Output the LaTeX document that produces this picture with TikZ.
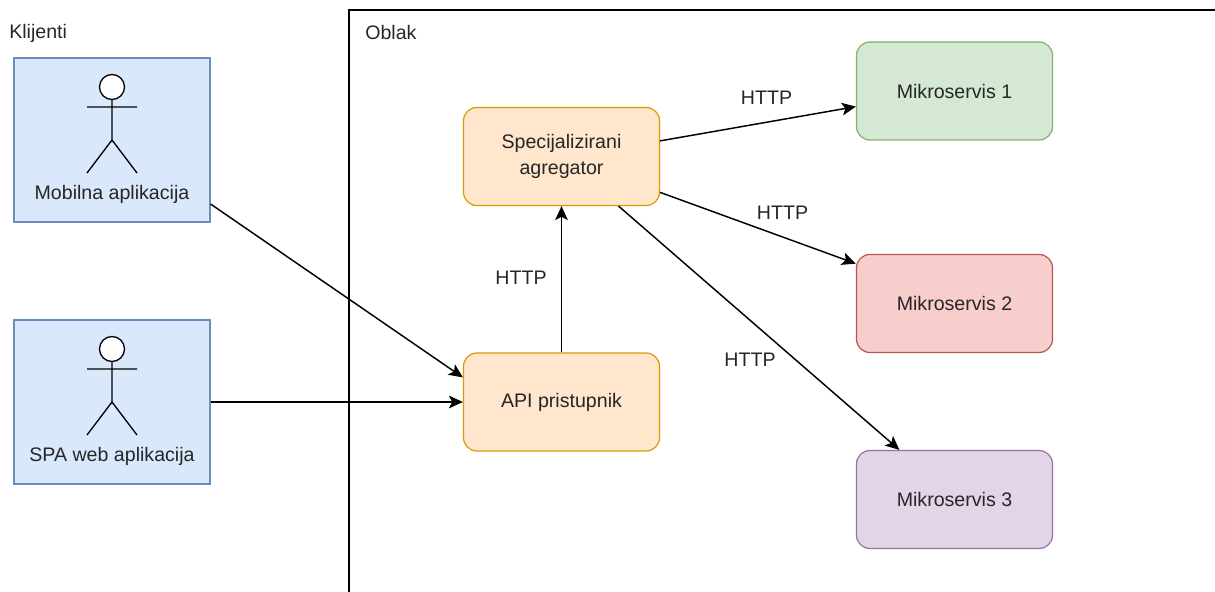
\documentclass[tikz,border=0pt]{standalone}
\usepackage{fontspec}
\setmainfont{Liberation Sans}
\usetikzlibrary{arrows.meta}
\definecolor{blueFill}{HTML}{DAE8FC}
\definecolor{blueLine}{HTML}{6C8EBF}
\definecolor{orangeFill}{HTML}{FFE6CC}
\definecolor{orangeLine}{HTML}{D79B00}
\definecolor{greenFill}{HTML}{D5E8D4}
\definecolor{greenLine}{HTML}{82B366}
\definecolor{redFill}{HTML}{F8CECC}
\definecolor{redLine}{HTML}{B85450}
\definecolor{purpleFill}{HTML}{E1D5E7}
\definecolor{purpleLine}{HTML}{9673A6}
\tikzset{
  client/.style={draw=blueLine,fill=blueFill,line width=0.9pt,minimum width=147pt,minimum height=123pt,inner sep=0pt},
  service/.style={draw=#1Line,fill=#1Fill,line width=0.9pt,rounded corners=10pt,minimum width=147pt,minimum height=73.5pt,inner sep=0pt,align=center,font=\fontsize{14.7}{19.5}\selectfont,text=black!85},
  conn/.style={line width=1.1pt,-{Stealth[length=10.5pt,width=9.5pt,inset=2.5pt]}},
  caption/.style={inner sep=0pt,font=\fontsize{14.7}{17}\selectfont,text=black!85},
  actor/.style={line width=1pt}
}
\begin{document}
\begin{tikzpicture}[x=0.75pt,y=0.75pt,yscale=-1]
\useasboundingbox (0,0) rectangle (1215,592);

%Cloud frame
\draw [line width=0.9pt] (349,592) -- (349,10) -- (1215,10);

%Client boxes
\node [client] (mobile) at (112,140) {};
\node [client] (spa) at (112,402) {};

%Actors
\draw [actor,fill=white] (112,87) circle [radius=12.5];
\draw [actor] (112,99.5) -- (112,140) (87,107) -- (137,107) (87,173) -- (112,140) -- (137,173);
\draw [actor,fill=white] (112,349) circle [radius=12.5];
\draw [actor] (112,361.5) -- (112,402) (87,369) -- (137,369) (87,435) -- (112,402) -- (137,435);

%Services
\node [service=orange] (aggregator) at (561.5,156.5) {Specijalizirani\\agregator};
\node [service=orange] (gateway) at (561.5,402) {API pristupnik};
\node [service=green] (micro1) at (954.5,91) {Mikroservis 1};
\node [service=red] (micro2) at (954.5,303.5) {Mikroservis 2};
\node [service=purple] (micro3) at (954.5,499.5) {Mikroservis 3};

%Connections
\draw [conn] (mobile.-33.6) -- (gateway.166.2);
\draw [conn] (spa.east) -- (gateway.west);
\draw [conn] (gateway.north) -- (aggregator.south);
\draw [conn] (aggregator.9) -- (micro1.189.8);
\draw [conn] (aggregator.-20.1) -- (micro2.158.6);
\draw [conn] (aggregator.-41.3) -- (micro3.138.8);

% Text Node
\node [caption,anchor=west] (clients) at (9,33) {Klijenti};
\node [caption,anchor=west] (cloud) at (365,32.5) {Oblak};
\node [caption] (mobilelabel) at (112,194) {Mobilna aplikacija};
\node [caption] (spalabel) at (112,456) {SPA web aplikacija};
\node [caption] (http1) at (521,278) {HTTP};
\node [caption] (http2) at (766.5,97.5) {HTTP};
\node [caption] (http3) at (782.5,212.5) {HTTP};
\node [caption] (http4) at (750,360) {HTTP};
\end{tikzpicture}
\end{document}
